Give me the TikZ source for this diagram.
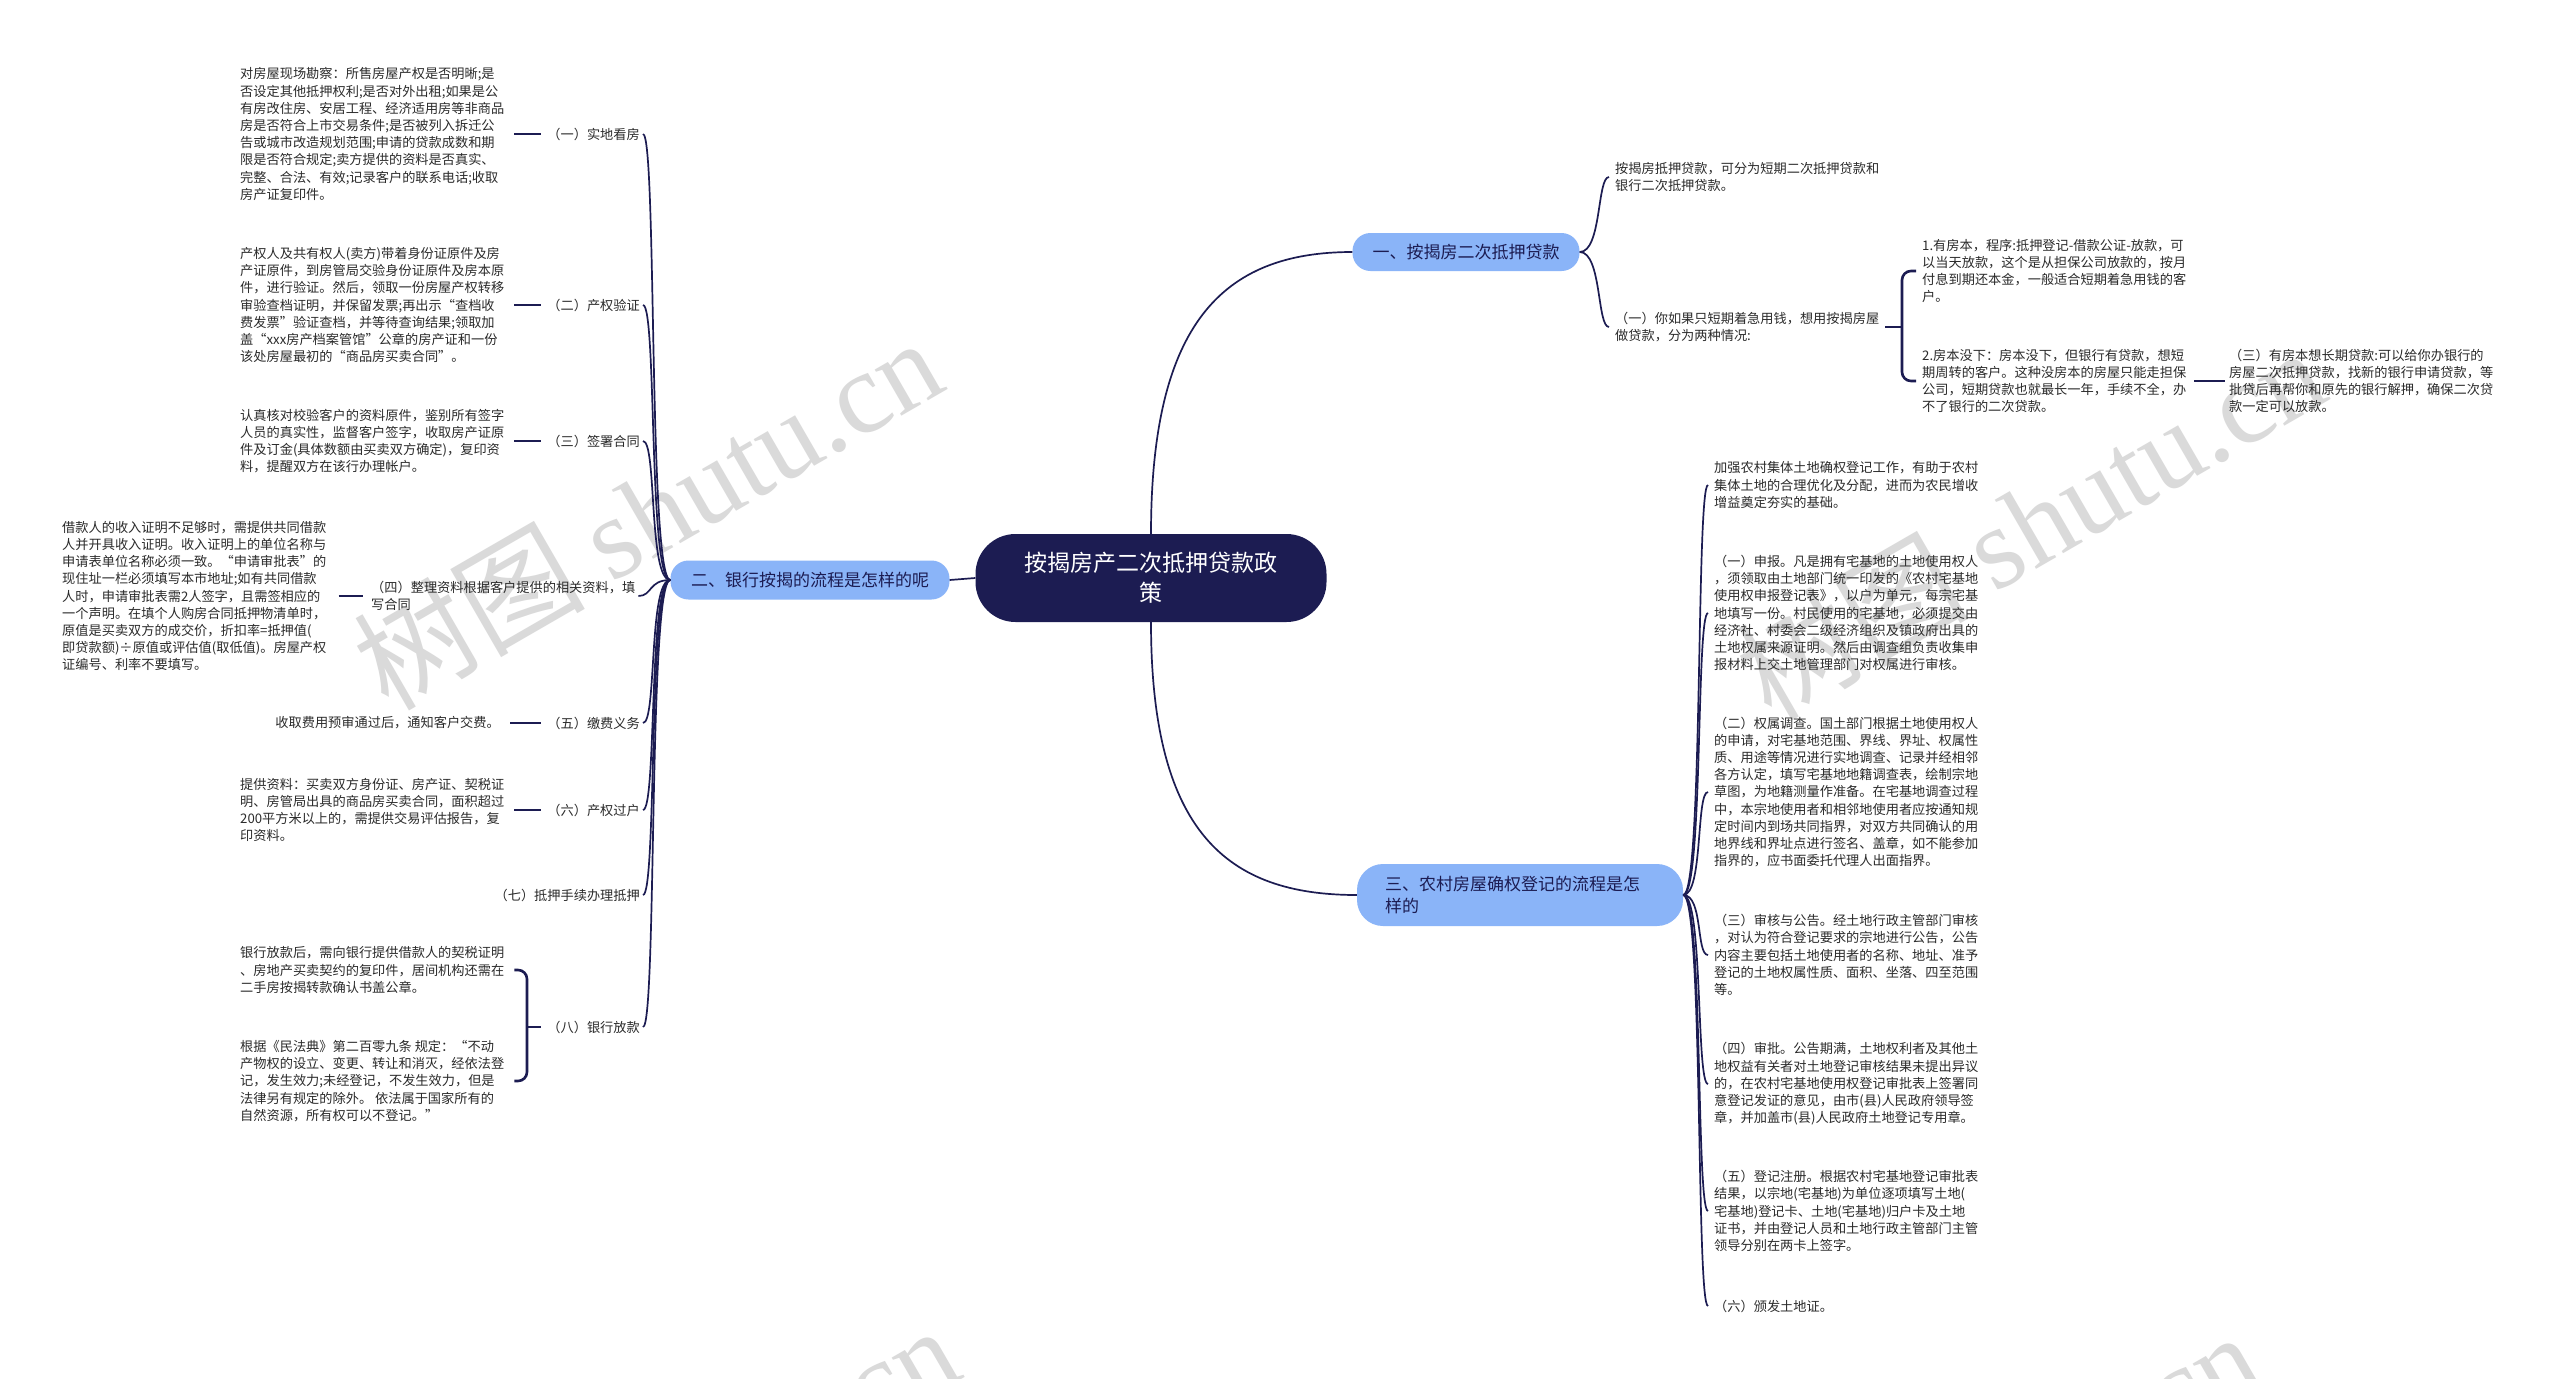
\documentclass[tikz,border=0pt]{standalone}
\usepackage{fontspec}
\setmainfont{Noto Sans CJK SC}
\newfontfamily\wmserif{Liberation Serif}
\newfontfamily\wmcjk{Noto Sans CJK SC}
\definecolor{navy}{HTML}{1C1C52}
\definecolor{lblue}{HTML}{8AB4F8}
\definecolor{wm}{HTML}{DADADA}
\definecolor{tx}{HTML}{2B2B2B}
\begin{document}
\begin{tikzpicture}[x=1pt,y=-1pt,
  txt/.style={font=\fontsize{13.2}{17.2}\selectfont, text=tx, align=left, inner sep=0pt},
  branch/.style={fill=lblue, text=navy, font=\fontsize{17}{22}\selectfont, inner sep=0pt},
  link/.style={draw=navy, line width=1.7pt},
  tick/.style={draw=navy, line width=2.6pt},
  wmark/.style={text=wm, rotate=30, inner sep=0pt, font=\fontsize{116}{120}\selectfont}
]
\useasboundingbox (0,0) rectangle (2560,1379);
\clip (0,0) rectangle (2560,1379);
\fill[white] (0,0) rectangle (2560,1379);

% watermarks
\node[wmark] (wm1) at (647,512) {{\wmcjk 树图} {\wmserif shutu.cn}};
\node[wmark] (wm2) at (2030,522) {{\wmcjk 树图} {\wmserif shutu.cn}};
\node[wmark] (wm3) at (664,1500) {{\wmcjk 树图} {\wmserif shutu.cn}};
\node[wmark] (wm4) at (1965,1506) {{\wmcjk 树图} {\wmserif shutu.cn}};

% root and branches
\node[fill=navy, rounded corners=40pt, minimum width=351pt, minimum height=88pt, inner sep=0pt,
      text=white, font=\fontsize{23}{30}\selectfont, align=center] (root) at (1151,578)
      {按揭房产二次抵押贷款政\\策};
\node[branch, rounded corners=18pt, minimum width=227pt, minimum height=38pt] (b1) at (1466,252) {一、按揭房二次抵押贷款};
\node[branch, rounded corners=18pt, minimum width=279pt, minimum height=39pt] (b2) at (810,580) {二、银行按揭的流程是怎样的呢};
\node[branch, rounded corners=26pt, minimum width=326pt, minimum height=62pt, text width=270pt, align=left] (b3) at (1520,895)
      {三、农村房屋确权登记的流程是怎\\样的};

\draw[link] (root.north) .. controls +(0,-210) and +(-130,0) .. (b1.west);
\draw[link] (root.south) .. controls +(0,210) and +(-130,0) .. (b3.west);
\draw[link] (root.west) -- (b2.east);

% ---------------- left side ----------------
\node[txt, anchor=east] (l1) at (640,134) {（一）实地看房};
\node[txt, anchor=east] (l2) at (640,305) {（二）产权验证};
\node[txt, anchor=east] (l3) at (640,441) {（三）签署合同};
\node[txt, anchor=west] (l4) at (371,596) {（四）整理资料根据客户提供的相关资料，填\\写合同};
\node[txt, anchor=east] (l5) at (640,723) {（五）缴费义务};
\node[txt, anchor=east] (l6) at (640,810) {（六）产权过户};
\node[txt, anchor=east] (l7) at (640,895) {（七）抵押手续办理抵押};
\node[txt, anchor=east] (l8) at (640,1027) {（八）银行放款};

\foreach \n in {l1,l2,l3,l5,l6,l7,l8}
  \draw[link] (b2.west) .. controls +(-22,0) and +(14,0) .. ([xshift=3pt]\n.east);
\draw[link] (b2.west) .. controls +(-22,0) and +(14,0) .. ([xshift=3pt]l4.east);

\node[txt, anchor=west] (t1) at (240,134) {对房屋现场勘察：所售房屋产权是否明晰;是\\否设定其他抵押权利;是否对外出租;如果是公\\有房改住房、安居工程、经济适用房等非商品\\房是否符合上市交易条件;是否被列入拆迁公\\告或城市改造规划范围;申请的贷款成数和期\\限是否符合规定;卖方提供的资料是否真实、\\完整、合法、有效;记录客户的联系电话;收取\\房产证复印件。};
\node[txt, anchor=west] (t2) at (240,305) {产权人及共有权人(卖方)带着身份证原件及房\\产证原件，到房管局交验身份证原件及房本原\\件，进行验证。然后，领取一份房屋产权转移\\审验查档证明，并保留发票;再出示“查档收\\费发票”验证查档，并等待查询结果;领取加\\盖“xxx房产档案管馆”公章的房产证和一份\\该处房屋最初的“商品房买卖合同”。};
\node[txt, anchor=west] (t3) at (240,441) {认真核对校验客户的资料原件，鉴别所有签字\\人员的真实性，监督客户签字，收取房产证原\\件及订金(具体数额由买卖双方确定)，复印资\\料，提醒双方在该行办理帐户。};
\node[txt, anchor=west] (t4) at (62,596) {借款人的收入证明不足够时，需提供共同借款\\人并开具收入证明。收入证明上的单位名称与\\申请表单位名称必须一致。“申请审批表”的\\现住址一栏必须填写本市地址;如有共同借款\\人时，申请审批表需2人签字，且需签相应的\\一个声明。在填个人购房合同抵押物清单时，\\原值是买卖双方的成交价，折扣率=抵押值(\\即贷款额)÷原值或评估值(取低值)。房屋产权\\证编号、利率不要填写。};
\node[txt, anchor=east] (t5) at (500,723) {收取费用预审通过后，通知客户交费。};
\node[txt, anchor=west] (t6) at (240,810) {提供资料：买卖双方身份证、房产证、契税证\\明、房管局出具的商品房买卖合同，面积超过\\200平方米以上的，需提供交易评估报告，复\\印资料。};
\node[txt, anchor=west] (t8a) at (240,970) {银行放款后，需向银行提供借款人的契税证明\\、房地产买卖契约的复印件，居间机构还需在\\二手房按揭转款确认书盖公章。};
\node[txt, anchor=west] (t8b) at (240,1081) {根据《民法典》第二百零九条 规定：“不动\\产物权的设立、变更、转让和消灭，经依法登\\记，发生效力;未经登记，不发生效力，但是\\法律另有规定的除外。 依法属于国家所有的\\自然资源，所有权可以不登记。”};

\foreach \a/\b in {t1/l1,t2/l2,t3/l3,t5/l5,t6/l6}
  \draw[tick] ([xshift=10pt]\b.west -| \a.east) -- ([xshift=-6pt]\b.west);
\draw[tick] ([xshift=12pt]l4.west -| t4.east) -- ([xshift=-8pt]l4.west);
\coordinate (k8) at (527,1027);
\draw[tick] (k8) -- ([xshift=-6pt]l8.west);
\draw[tick, rounded corners=9pt] ([xshift=10pt]t8a.east |- 0,970) -- (527,970) -- (527,1081) -- ([xshift=10pt]t8b.east |- 0,1081);

% ---------------- right top ----------------
\node[txt, anchor=west] (a1) at (1615,177) {按揭房抵押贷款，可分为短期二次抵押贷款和\\银行二次抵押贷款。};
\node[txt, anchor=west] (a2) at (1615,327) {（一）你如果只短期着急用钱，想用按揭房屋\\做贷款，分为两种情况:};
\node[txt, anchor=west] (c1) at (1922,271) {1.有房本，程序:抵押登记-借款公证-放款，可\\以当天放款，这个是从担保公司放款的，按月\\付息到期还本金，一般适合短期着急用钱的客\\户。};
\node[txt, anchor=west] (c2) at (1922,381) {2.房本没下：房本没下，但银行有贷款，想短\\期周转的客户。这种没房本的房屋只能走担保\\公司，短期贷款也就最长一年，手续不全，办\\不了银行的二次贷款。};
\node[txt, anchor=west] (d1) at (2229,381) {（三）有房本想长期贷款:可以给你办银行的\\房屋二次抵押贷款，找新的银行申请贷款，等\\批贷后再帮你和原先的银行解押，确保二次贷\\款一定可以放款。};

\foreach \n in {a1,a2}
  \draw[link] (b1.east) .. controls +(22,0) and +(-12,0) .. ([xshift=-6pt]\n.west);
\coordinate (k2) at (1902,327);
\draw[tick] ([xshift=6pt]a2.east |- k2) -- (k2);
\draw[tick, rounded corners=9pt] ([xshift=-6pt]c1.west) -- (1902,271) -- (1902,381) -- ([xshift=-6pt]c2.west);
\draw[tick] ([xshift=8pt]c2.east) -- ([xshift=-4pt]d1.west);

% ---------------- right bottom ----------------
\node[txt, anchor=west] (r0) at (1714,485) {加强农村集体土地确权登记工作，有助于农村\\集体土地的合理优化及分配，进而为农民增收\\增益奠定夯实的基础。};
\node[txt, anchor=west] (r1) at (1714,613) {（一）申报。凡是拥有宅基地的土地使用权人\\，须领取由土地部门统一印发的《农村宅基地\\使用权申报登记表》，以户为单元，每宗宅基\\地填写一份。村民使用的宅基地，必须提交由\\经济社、村委会二级经济组织及镇政府出具的\\土地权属来源证明。然后由调查组负责收集申\\报材料上交土地管理部门对权属进行审核。};
\node[txt, anchor=west] (r2) at (1714,792) {（二）权属调查。国土部门根据土地使用权人\\的申请，对宅基地范围、界线、界址、权属性\\质、用途等情况进行实地调查、记录并经相邻\\各方认定，填写宅基地地籍调查表，绘制宗地\\草图，为地籍测量作准备。在宅基地调查过程\\中，本宗地使用者和相邻地使用者应按通知规\\定时间内到场共同指界，对双方共同确认的用\\地界线和界址点进行签名、盖章，如不能参加\\指界的，应书面委托代理人出面指界。};
\node[txt, anchor=west] (r3) at (1714,955) {（三）审核与公告。经土地行政主管部门审核\\，对认为符合登记要求的宗地进行公告，公告\\内容主要包括土地使用者的名称、地址、准予\\登记的土地权属性质、面积、坐落、四至范围\\等。};
\node[txt, anchor=west] (r4) at (1714,1084) {（四）审批。公告期满，土地权利者及其他土\\地权益有关者对土地登记审核结果未提出异议\\的，在农村宅基地使用权登记审批表上签署同\\意登记发证的意见，由市(县)人民政府领导签\\章，并加盖市(县)人民政府土地登记专用章。};
\node[txt, anchor=west] (r5) at (1714,1211) {（五）登记注册。根据农村宅基地登记审批表\\结果，以宗地(宅基地)为单位逐项填写土地(\\宅基地)登记卡、土地(宅基地)归户卡及土地\\证书，并由登记人员和土地行政主管部门主管\\领导分别在两卡上签字。};
\node[txt, anchor=west] (r6) at (1714,1306) {（六）颁发土地证。};

\foreach \n in {r0,r1,r2,r3,r4,r5,r6}
  \draw[link] (b3.east) .. controls +(20,0) and +(-12,0) .. ([xshift=-6pt]\n.west);
\end{tikzpicture}
\end{document}
